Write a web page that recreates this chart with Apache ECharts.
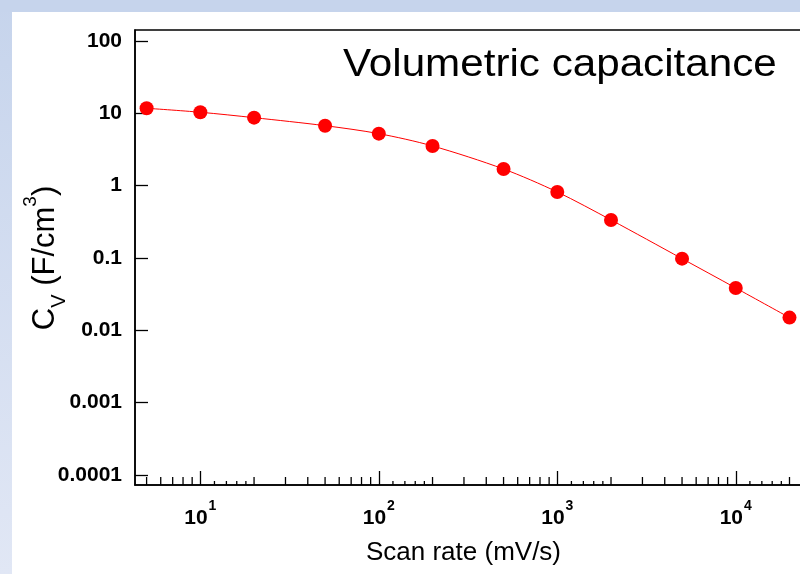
<!DOCTYPE html>
<html>
<head>
<meta charset="utf-8">
<script src="https://cdn.jsdelivr.net/npm/echarts@6/dist/echarts.min.js"></script>
<style>html,body{margin:0;padding:0;background:#fff}#c{width:800px;height:574px}</style>
</head>
<body>
<div id="c"></div>
<script>
// ---- data ----
const scanRates = [5, 10, 20, 50, 100, 200, 500, 1000, 2000, 5000, 10000, 20000]; // mV/s
const capacitance = [11.75, 10.35, 8.71, 6.75, 5.24, 3.54, 1.70, 0.818, 0.336, 0.098, 0.0385, 0.0150]; // F/cm3
const yTickExponents = [-4, -3, -2, -1, 0, 1, 2];
const yTickLabels = ['0.0001', '0.001', '0.01', '0.1', '1', '10', '100'];
const xTickExponents = [1, 2, 3, 4];
const xTickLabels = ['1', '2', '3', '4'];
const xMinorDecades = [1, 10, 100, 1000, 10000];
const xMinorMultipliers = [2, 3, 4, 5, 6, 7, 8, 9];
const xTinyMultipliers = [1.2, 1.4, 1.6, 1.8];
const titleText = 'Volumetric capacitance';
const xAxisTitle = 'Scan rate (mV/s)';

const X_MIN = 4.305, X_MAX = 35975;
const Y_MIN = 7.28e-5, Y_MAX = 141.9;

const minorTicks = [], tinyTicks = [];
xMinorDecades.forEach(d => {
  xMinorMultipliers.forEach(m => { const v = m * d; if (v > X_MIN && v < X_MAX) minorTicks.push([v]); });
  xTinyMultipliers.forEach(m => { const v = m * d * 10; if (v > X_MIN && v < X_MAX) tinyTicks.push([v]); });
});

const FONT = 'Liberation Sans, Arial, sans-serif';
const chart = echarts.init(document.getElementById('c'), null, {renderer: 'canvas'});

function tickRenderer(len) {
  return function (params, api) {
    const x = api.coord([api.value(0), 1])[0];
    const cs = params.coordSys;
    const bottom = cs.y + cs.height;
    return {
      type: 'line',
      shape: {x1: x, y1: bottom, x2: x, y2: bottom - len},
      style: {stroke: '#000', lineWidth: 1.3}
    };
  };
}

const option = {
  backgroundColor: '#ffffff',
  animation: false,
  grid: {left: 135, top: 30, width: 700, height: 455, outerBoundsMode: 'none', containLabel: false,
         show: true, borderColor: '#000', borderWidth: 1.5, backgroundColor: 'transparent'},
  graphic: [
    {type: 'rect', left: 0, top: 0, shape: {x: 0, y: 0, width: 12, height: 574}, style: {fill: new echarts.graphic.LinearGradient(0, 0, 0, 1, [{offset: 0, color: '#c6d4ec'}, {offset: 1, color: '#e1e7f5'}])}, z: -10},
    {type: 'rect', left: 0, top: 0, shape: {x: 0, y: 0, width: 800, height: 12}, style: {fill: '#c6d4ec'}, z: -10},
    {type: 'text', x: 343, y: 66, scaleX: 1.11, style: {text: titleText, font: '38px ' + FONT, fill: '#000', align: 'left', verticalAlign: 'middle'}, z: 10},
    {type: 'text', x: 45, y: 258, rotation: Math.PI / 2,
     style: {
       text: '{m|C}{sub|V}{m| (F/cm}{sup|3}{m|)}',
       align: 'center', verticalAlign: 'middle',
       rich: {
         m: {font: '31px ' + FONT, fill: '#000', lineHeight: 48},
         sub: {font: '20px ' + FONT, fill: '#000', lineHeight: 24, verticalAlign: 'bottom'},
         sup: {font: '19px ' + FONT, fill: '#000', lineHeight: 18, verticalAlign: 'top'}
       }
     }, z: 10}
  ],
  xAxis: {
    type: 'log', logBase: 10, min: X_MIN, max: X_MAX,
    name: xAxisTitle, nameLocation: 'middle', nameGap: 55,
    nameTextStyle: {fontFamily: FONT, fontSize: 26, color: '#000', padding: [0, 43, 0, 0]},
    axisLine: {show: true, onZero: false, lineStyle: {color: '#000', width: 1.5}},
    axisTick: {show: true, inside: true, length: 14, lineStyle: {color: '#000', width: 1.3}},
    minorTick: {show: false},
    splitLine: {show: false},
    axisLabel: {
      margin: 14, showMinLabel: false, showMaxLabel: false,
      formatter: function (v) {
        const lg = Math.log10(v); const e = Math.round(lg);
        if (Math.abs(lg - e) > 1e-6) return '';
        const i = xTickExponents.indexOf(e);
        return i < 0 ? '' : '{b|10}{s|' + xTickLabels[i] + '}';
      },
      rich: {
        b: {fontFamily: FONT, fontSize: 21, fontWeight: 'bold', color: '#000', lineHeight: 30, verticalAlign: 'bottom'},
        s: {fontFamily: FONT, fontSize: 14, fontWeight: 'bold', color: '#000', lineHeight: 16, verticalAlign: 'top', padding: [0, 0, 0, 1]}
      }
    }
  },
  yAxis: {
    type: 'log', logBase: 10, min: Y_MIN, max: Y_MAX,
    axisLine: {show: true, onZero: false, lineStyle: {color: '#000', width: 1.5}},
    axisTick: {show: true, inside: true, length: 13, lineStyle: {color: '#000', width: 1.3}},
    splitLine: {show: false},
    axisLabel: {
      margin: 13, fontFamily: FONT, fontSize: 21, fontWeight: 'bold', color: '#000', showMinLabel: false, showMaxLabel: false,
      formatter: function (v) {
        const lg = Math.log10(v); const e = Math.round(lg);
        if (Math.abs(lg - e) > 1e-6) return '';
        const i = yTickExponents.indexOf(e);
        return i < 0 ? '' : yTickLabels[i];
      }
    }
  },
  series: [
    {
      type: 'line', data: scanRates.map((x, i) => [x, capacitance[i]]),
      smooth: 0.3, symbol: 'circle', symbolSize: 14,
      itemStyle: {color: '#ff0000'}, lineStyle: {color: '#ff0000', width: 1},
      z: 5
    },
    {type: 'custom', data: minorTicks, renderItem: tickRenderer(8), silent: true, z: 6, clip: false},
    {type: 'custom', data: tinyTicks, renderItem: tickRenderer(4), silent: true, z: 6, clip: false}
  ]
};
chart.setOption(option);
</script>
</body>
</html>
